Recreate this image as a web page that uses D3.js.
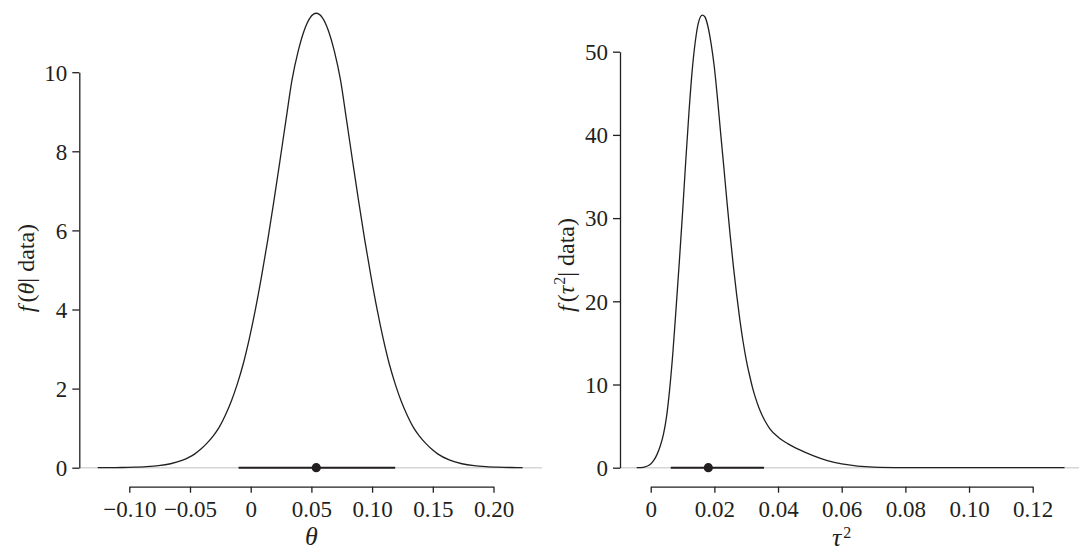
<!DOCTYPE html>
<html><head><meta charset="utf-8">
<script src="https://cdn.jsdelivr.net/npm/d3@7"></script>
<style>
html,body{margin:0;padding:0;background:#fff;}
svg{display:block;font-family:"Liberation Serif","Times New Roman",serif;}
</style></head>
<body>
<svg id="c" width="1079" height="551"></svg>
<script>
// ---- data ----
const thetaX = [-0.126,-0.116,-0.106,-0.096,-0.086,-0.076,-0.066,-0.056,-0.051,-0.046,-0.041,-0.036,-0.031,-0.026,-0.021,-0.016,-0.011,-0.006,-0.001,0.004,0.009,0.014,0.019,0.024,0.029,0.034,0.039,0.044,0.049,0.054,0.059,0.064,0.069,0.074,0.079,0.084,0.089,0.094,0.099,0.104,0.109,0.114,0.119,0.124,0.129,0.134,0.139,0.144,0.149,0.154,0.164,0.174,0.184,0.194,0.204,0.214,0.224];
const thetaDens = [0.0,0.002,0.005,0.012,0.025,0.05,0.10,0.19,0.26,0.35,0.47,0.62,0.80,1.02,1.32,1.68,2.12,2.64,3.28,4.02,4.85,5.75,6.72,7.74,8.78,9.80,10.52,11.05,11.38,11.49,11.38,11.05,10.52,9.80,8.78,7.74,6.72,5.75,4.85,4.02,3.28,2.64,2.12,1.68,1.32,1.02,0.80,0.62,0.47,0.35,0.19,0.10,0.05,0.025,0.012,0.005,0.002];
const thetaMean = 0.054, thetaLo = -0.010, thetaHi = 0.119;

const tauX = [-0.0044,-0.003,-0.002,-0.001,0.000,0.001,0.002,0.003,0.004,0.005,0.006,0.007,0.008,0.009,0.010,0.011,0.012,0.013,0.014,0.015,0.0162,0.017,0.018,0.019,0.020,0.021,0.022,0.023,0.024,0.025,0.026,0.027,0.028,0.029,0.030,0.031,0.032,0.033,0.034,0.035,0.036,0.0375,0.040,0.043,0.0465,0.051,0.0555,0.060,0.065,0.070,0.080,0.090,0.100,0.115,0.130];
const tauDens = [0,0.02,0.07,0.2,0.45,0.9,1.6,2.6,4.0,6.2,9.6,14.0,19.3,24.8,30.6,36.8,42.6,47.6,51.2,53.5,54.4,54.2,53.0,50.9,48.1,44.3,40.1,36.0,31.8,27.8,24.1,20.8,17.8,15.2,13.0,11.2,9.6,8.3,7.2,6.3,5.55,4.65,3.7,2.9,2.2,1.45,0.85,0.45,0.2,0.08,0.02,0.006,0.002,0.001,0];
const tauMean = 0.0181, tauLo = 0.0063, tauHi = 0.0356;

const thetaTicks = [-0.10,-0.05,0,0.05,0.10,0.15,0.20];
const thetaTickLabels = ["\u22120.10","\u22120.05","0","0.05","0.10","0.15","0.20"];
const tauTicks = [0,0.02,0.04,0.06,0.08,0.10,0.12];
const tauTickLabels = ["0","0.02","0.04","0.06","0.08","0.10","0.12"];
const thetaYTicks = [0,2,4,6,8,10];
const tauYTicks = [0,10,20,30,40,50];

// ---- drawing ----
const svg = d3.select("#c");
const ink = "#231f20";
const FS = 23;
const LFS = 24;

function panel(o){
  const g = svg.append("g");
  const x = d3.scaleLinear().domain(o.xDom).range(o.xRange);
  const y = d3.scaleLinear().domain(o.yDom).range([467.7, o.yTop]);
  g.append("line").attr("x1",o.baseFrom).attr("x2",o.baseTo)
    .attr("y1",y(0)).attr("y2",y(0)).attr("stroke","#d6d6d6").attr("stroke-width",1.4);
  const ya = g.append("g").attr("transform",`translate(${o.yAxisX},0)`)
    .call(d3.axisLeft(y).tickValues(o.yTicks).tickSize(7).tickSizeOuter(0).tickPadding(5).tickFormat(d3.format("d")));
  const xa = g.append("g").attr("transform",`translate(0,486.7)`)
    .call(d3.axisBottom(x).tickValues(o.xTicks).tickSize(6).tickSizeOuter(0).tickFormat((d,i)=>o.xLabels[i]));
  [ya,xa].forEach(a=>{
    a.select(".domain").attr("stroke",ink).attr("stroke-width",1.3);
    a.selectAll(".tick line").attr("stroke",ink).attr("stroke-width",1.3);
    a.selectAll(".tick text").attr("fill",ink).style("font-size",FS+"px").style("font-family","Liberation Serif");
  });
  xa.selectAll(".tick text").attr("y",30).attr("dy",0);
  ya.selectAll(".tick text").attr("dy","0.34em");
  const line = d3.line().x((d,i)=>x(o.cx[i])).y(d=>y(d)).curve(d3.curveMonotoneX);
  g.append("path").datum(o.cy).attr("d",line).attr("fill","none").attr("stroke",ink).attr("stroke-width",1.3);
  g.append("line").attr("x1",x(o.lo)).attr("x2",x(o.hi)).attr("y1",y(0)).attr("y2",y(0))
    .attr("stroke",ink).attr("stroke-width",2);
  g.append("circle").attr("cx",x(o.mean)).attr("cy",y(0)).attr("r",4.6).attr("fill",ink);
  return {x,y,g};
}

panel({xDom:[-0.10,0.20], xRange:[129.3,493.5], yDom:[0,10], yTop:72.2, yAxisX:79.3,
  baseFrom:79.3, baseTo:542, yTicks:thetaYTicks, xTicks:thetaTicks, xLabels:thetaTickLabels,
  cx:thetaX, cy:thetaDens, lo:thetaLo, hi:thetaHi, mean:thetaMean});
panel({xDom:[0,0.12], xRange:[650.7,1032.7], yDom:[0,50], yTop:51.7, yAxisX:620,
  baseFrom:620, baseTo:1079, yTicks:tauYTicks, xTicks:tauTicks, xLabels:tauTickLabels,
  cx:tauX, cy:tauDens, lo:tauLo, hi:tauHi, mean:tauMean});

// axis titles
svg.append("text").attr("x",311.4).attr("y",545).attr("text-anchor","middle")
  .attr("fill",ink).style("font-size",(LFS+2)+"px").style("font-style","italic").text("\u03b8");
const t2 = svg.append("text").attr("x",841.7).attr("y",546).attr("text-anchor","middle")
  .attr("fill",ink).style("font-size",(LFS+2)+"px");
t2.append("tspan").style("font-style","italic").text("\u03c4");
t2.append("tspan").attr("dx",2).attr("dy",-8).style("font-size","16px").text("2");

const yl1 = svg.append("text").attr("transform","translate(34,268) rotate(-90)").attr("text-anchor","middle")
  .attr("fill",ink).style("font-size",LFS+"px");
yl1.append("tspan").style("font-style","italic").text("f");
yl1.append("tspan").attr("dx",3).text("(");
yl1.append("tspan").style("font-style","italic").text("\u03b8");
yl1.append("tspan").text("| data)");

const yl2 = svg.append("text").attr("transform","translate(574,265) rotate(-90)").attr("text-anchor","middle")
  .attr("fill",ink).style("font-size",LFS+"px");
yl2.append("tspan").style("font-style","italic").text("f");
yl2.append("tspan").attr("dx",3).text("(");
yl2.append("tspan").style("font-style","italic").text("\u03c4");
yl2.append("tspan").attr("dx",1).attr("dy",-9).style("font-size","16px").text("2");
yl2.append("tspan").attr("dy",9).text("| data)");
</script>
</body></html>
